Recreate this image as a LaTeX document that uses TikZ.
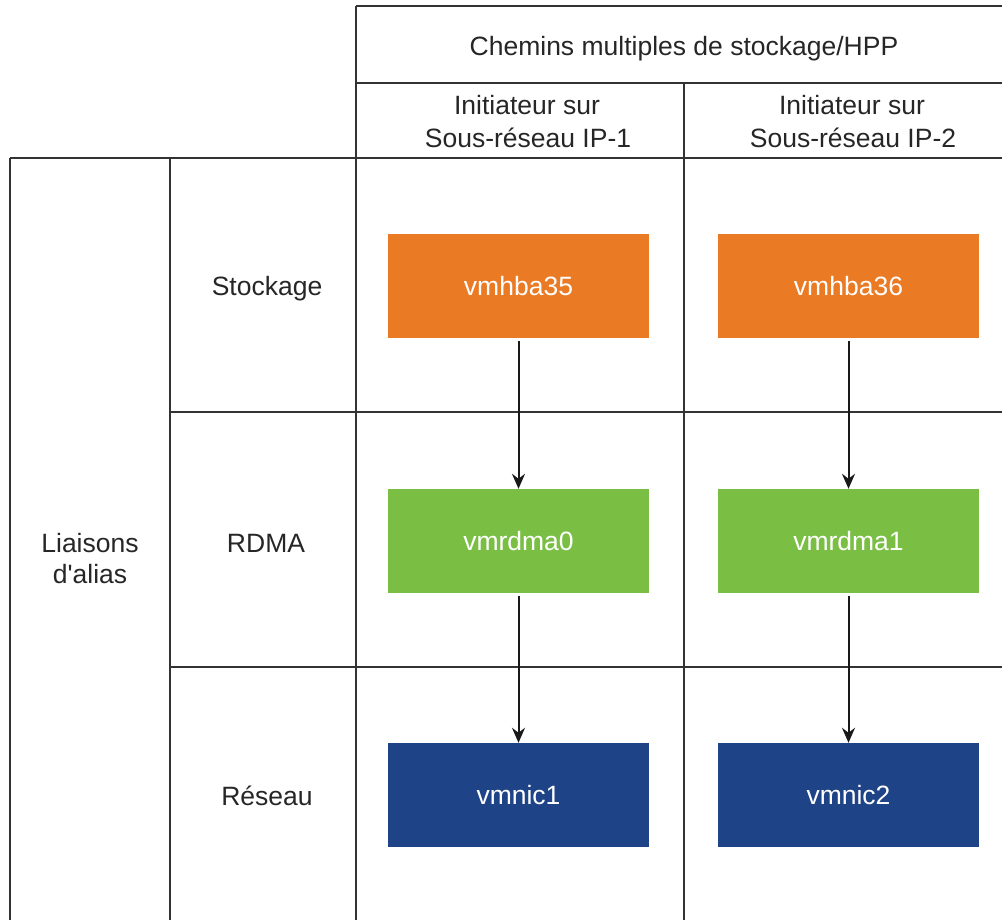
\documentclass[tikz,border=0pt]{standalone}
\usepackage{fontspec}
\newfontfamily\arialf{Liberation Sans}
\usetikzlibrary{arrows.meta}
\definecolor{orangebox}{HTML}{EA7A24}
\definecolor{greenbox}{HTML}{7ABF44}
\definecolor{bluebox}{HTML}{1E4387}
\definecolor{gridline}{HTML}{333333}
\definecolor{txt}{HTML}{262626}
\tikzset{
  grid/.style={draw=gridline, line width=2pt},
  lbl/.style={anchor=base, text=txt, font=\arialf\fontsize{26.5}{33}\selectfont, inner sep=0pt},
  card/.style={minimum width=261pt, minimum height=104pt, inner sep=0pt, text=white},
  link/.style={draw=black!90, line width=2pt, -{Stealth[length=15pt,width=13pt,inset=5pt]}},
}
\begin{document}
\begin{tikzpicture}[x=1pt,y=-1pt]
\useasboundingbox (0,0) rectangle (1002,920);
\clip (0,0) rectangle (1002,920);
% grid
\draw[grid] (356,6) -- (1015,6);
\draw[grid] (356,6) -- (356,925);
\draw[grid] (356,83) -- (1015,83);
\draw[grid] (684,83) -- (684,925);
\draw[grid] (10,158) -- (1015,158);
\draw[grid] (10,158) -- (10,925);
\draw[grid] (170,158) -- (170,925);
\draw[grid] (170,412) -- (1015,412);
\draw[grid] (170,667) -- (1015,667);
% headers
\node[lbl] (hpp) at (684,56) {Chemins multiples de stockage/HPP};
\node[lbl] (i1a) at (527,115) {Initiateur sur};
\node[lbl] (i1b) at (528,148) {Sous-réseau IP-1};
\node[lbl] (i2a) at (852,115) {Initiateur sur};
\node[lbl] (i2b) at (853,148) {Sous-réseau IP-2};
% row labels
\node[lbl] (stk) at (267,295) {Stockage};
\node[lbl] (rdma) at (266,552) {RDMA};
\node[lbl] (res) at (267,805) {Réseau};
\node[lbl] (lia1) at (90,552) {Liaisons};
\node[lbl] (lia2) at (90,583) {d'alias};
% boxes
\node[card, fill=orangebox] (h35) at (518.5,286) {};
\node[card, fill=orangebox] (h36) at (848.5,286) {};
\node[card, fill=greenbox] (r0) at (518.5,541) {};
\node[card, fill=greenbox] (r1) at (848.5,541) {};
\node[card, fill=bluebox] (n1) at (518.5,795) {};
\node[card, fill=bluebox] (n2) at (848.5,795) {};
\node[lbl, text=white] (th35) at (518.5,295) {vmhba35};
\node[lbl, text=white] (th36) at (848.5,295) {vmhba36};
\node[lbl, text=white] (tr0) at (518.5,550) {vmrdma0};
\node[lbl, text=white] (tr1) at (848.5,550) {vmrdma1};
\node[lbl, text=white] (tn1) at (518.5,804) {vmnic1};
\node[lbl, text=white] (tn2) at (848.5,804) {vmnic2};
% arrows
\draw[link] ([yshift=-3pt]h35.south) -- (r0.north);
\draw[link] ([yshift=-3pt]h36.south) -- (r1.north);
\draw[link] ([yshift=-3pt]r0.south) -- (n1.north);
\draw[link] ([yshift=-3pt]r1.south) -- (n2.north);
\end{tikzpicture}
\end{document}
